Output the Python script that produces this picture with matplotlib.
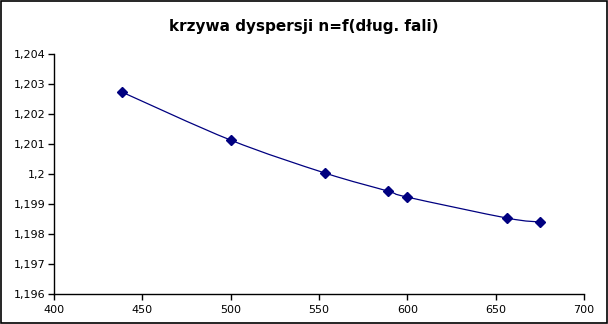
import matplotlib
matplotlib.use("Agg")
import matplotlib.pyplot as plt
import numpy as np
from matplotlib.path import Path
from matplotlib.patches import PathPatch, Rectangle
from matplotlib.ticker import FuncFormatter, MultipleLocator

# wavelength [nm] and refractive index
wavelength = [438.5, 500, 553.5, 589, 600, 656.5, 675]
n_index = [1.20273, 1.20113, 1.20003, 1.19943, 1.19923, 1.19853, 1.19840]

TITLE = "krzywa dyspersji n=f(dług. fali)"
NAVY = "#000080"


def smooth_path(x, y, tension=1 / 6):
    # Catmull-Rom style Bezier segments, like the spreadsheet "smoothed line"
    pts = np.column_stack([x, y])
    verts = [pts[0]]
    codes = [Path.MOVETO]
    for i in range(len(pts) - 1):
        p0 = pts[i - 1] if i > 0 else pts[i]
        p1 = pts[i]
        p2 = pts[i + 1]
        p3 = pts[i + 2] if i + 2 < len(pts) else pts[i + 1]
        c1 = p1 + (p2 - p0) * tension
        c2 = p2 - (p3 - p1) * tension
        verts += [c1, c2, p2]
        codes += [Path.CURVE4] * 3
    return Path(verts, codes)


fig = plt.figure(figsize=(6.08, 3.24), dpi=100)
ax = fig.add_axes([54 / 608, 30 / 324, 530 / 608, 240 / 324])

ax.add_patch(PathPatch(smooth_path(wavelength, n_index), fc="none", ec=NAVY, lw=0.9))
ax.plot(wavelength, n_index, linestyle="none", marker="D", ms=4.6, color=NAVY)

ax.set_xlim(400, 700)
ax.set_ylim(1.196, 1.204)
ax.xaxis.set_major_locator(MultipleLocator(50))
ax.yaxis.set_major_locator(MultipleLocator(0.001))
ax.yaxis.set_major_formatter(FuncFormatter(lambda v, _: f"{round(v, 3):g}".replace(".", ",")))

for side in ("top", "right"):
    ax.spines[side].set_visible(False)
for side in ("left", "bottom"):
    ax.spines[side].set_linewidth(1.0)
ax.tick_params(direction="out", length=4, width=1, labelsize=8, pad=2)
ax.tick_params(axis="x", pad=4)

fig.text(0.5, 1 - 27 / 324, TITLE, ha="center", va="center", fontsize=11, fontweight="bold")
fig.patches.append(Rectangle((0.001, 0.002), 0.997, 0.996, transform=fig.transFigure,
                             fill=False, ec="black", lw=1.2))

fig.savefig("out.png", dpi=100)
